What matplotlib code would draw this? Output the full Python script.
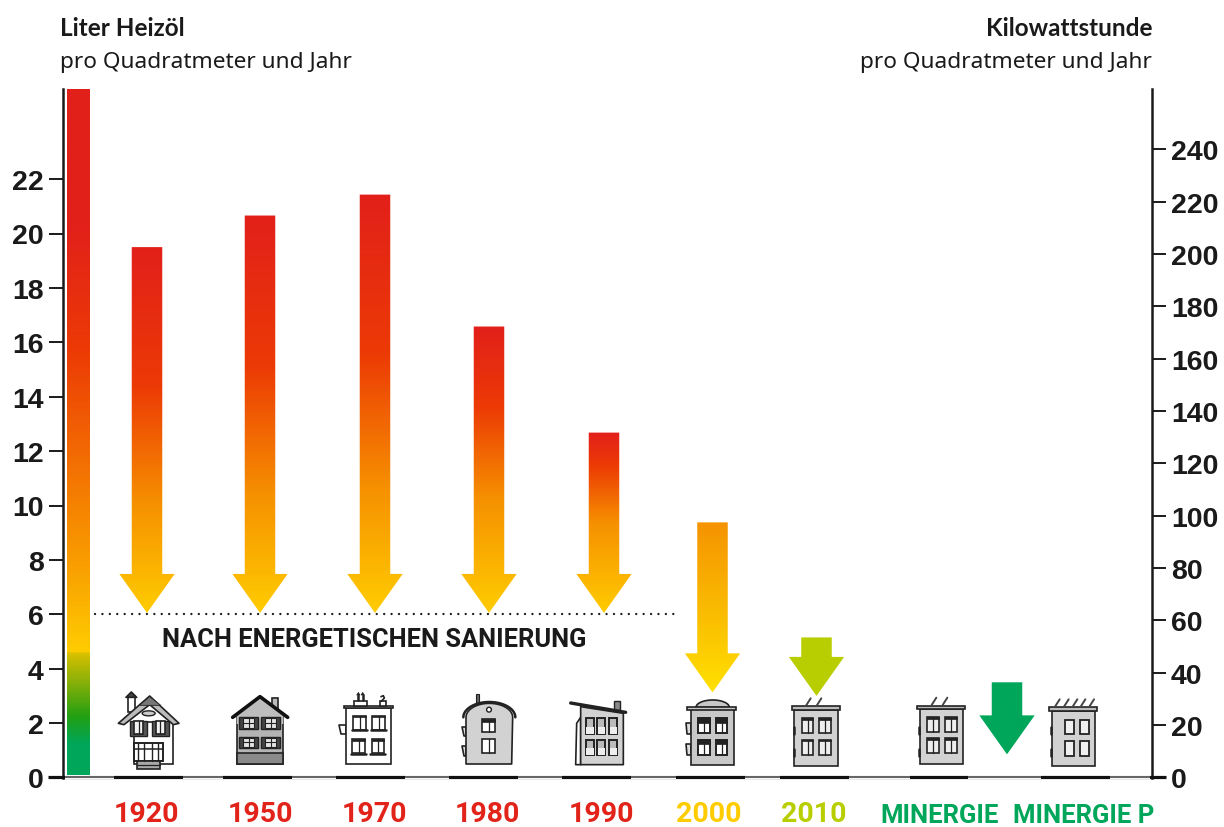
import numpy as np
import matplotlib
matplotlib.use("Agg")
import matplotlib.pyplot as plt
from matplotlib.colors import LinearSegmentedColormap
from matplotlib.patches import Polygon, Rectangle, Ellipse, Circle
from matplotlib.transforms import ScaledTranslation

# ---- data
categories = ["1920", "1950", "1970", "1980", "1990", "2000", "2010", "MINERGIE", "MINERGIE P"]
label_colors = ["#E2231A"] * 5 + ["#FFCC00", "#B9CE00", "#00A65A", "#00A65A"]
arrow_start = [19.5, 20.66, 21.43, 16.58, 12.68, 9.38, 5.15, 3.5]
arrow_end = [6.05, 6.05, 6.05, 6.05, 6.05, 3.13, 3.0, 0.85]
left_ticks = list(range(0, 24, 2))
right_ticks = list(range(0, 260, 20))
threshold = 6
threshold_label = "NACH ENERGETISCHEN SANIERUNG"

# ---- layout (pixels of the 1224x828 picture)
W, H = 1224, 828
AX_L, AX_R, AX_T, AX_B = 62.5, 1152, 89.5, 778.5
PX_PER_L, PX_PER_KWH = 27.2, 2.617
label_x = [146.5, 260, 374, 487, 601, 709, 814, 940, 1084]
arrow_x = [147, 260, 375, 489, 604, 712.5, 816.5, 1007]
SHAFT, HEAD_W, HEAD_H = 30.5, 55.3, 39 / PX_PER_L
INK = "#1A1A1A"


def warm(mid):
    return LinearSegmentedColormap.from_list(
        "warm", [(0, "#E2201A"), (mid, "#EC3A05"), (mid + .32, "#F69000"), (1, "#FFCC00")])


arrow_cmaps = [warm(.38), warm(.38), warm(.38), warm(.28), warm(.18),
               LinearSegmentedColormap.from_list("y", ["#F59300", "#FFE000"]),
               LinearSegmentedColormap.from_list("o", ["#B9CE00", "#B9CE00"]),
               LinearSegmentedColormap.from_list("g", ["#00A65A", "#00A65A"])]
bar_stops = [(0, "#00A65A"), (.045, "#00A65A"), (.085, "#22A012"), (.13, "#7FAE0A"), (.176, "#D6C000"),
             (.18, "#FFCC00"), (.31, "#F99D00"), (.62, "#EC3A05"), (.80, "#E2201A"), (1, "#E2201A")]
bar_cmap = LinearSegmentedColormap.from_list("bar", bar_stops)

plt.rcParams["font.family"] = ["Liberation Sans", "DejaVu Sans"]
fig = plt.figure(figsize=(W / 100, H / 100), dpi=100, facecolor="white")
rect = [AX_L / W, 1 - AX_B / H, (AX_R - AX_L) / W, (AX_B - AX_T) / H]
ax = fig.add_axes(rect)
ax.set_xlim(AX_L, AX_R)
ax.set_ylim(0, (AX_B - AX_T) / PX_PER_L)
ax2 = ax.twinx()
ax2.set_ylim(0, (AX_B - AX_T) / PX_PER_KWH)

for a in (ax, ax2):
    a.spines["top"].set_visible(False)
    for s in ("left", "right"):
        a.spines[s].set_linewidth(1.8)
        a.spines[s].set_color(INK)
    a.spines["bottom"].set_visible(False)
ax.spines["right"].set_visible(False)
ax2.spines["left"].set_visible(False)

ax.set_yticks(left_ticks)
ax2.set_yticks(right_ticks)
for a in (ax, ax2):
    a.tick_params(axis="y", length=10, width=1.4, color=INK, pad=3.5, labelcolor=INK)
    for t in a.get_yticklabels():
        t.set_fontsize(20.5)
        t.set_fontweight("bold")

ax.set_xticks(label_x, categories)
ax.tick_params(axis="x", length=0, pad=16)
for t, c, name in zip(ax.get_xticklabels(), label_colors, categories):
    t.set_color(c)
    t.set_fontweight("bold")
    t.set_family(["Roboto", "Liberation Sans"])
    t.set_fontsize(18.5 if name.startswith("MIN") else 20.5)
    if name.startswith("MIN"):
        t.set_transform(t.get_transform() + ScaledTranslation(0, -3 / 100, fig.dpi_scale_trans))

# colour scale bar
grad = np.linspace(0, 1, 512).reshape(-1, 1)
ymax = ax.get_ylim()[1]
ax.imshow(grad, origin="lower", cmap=bar_cmap, aspect="auto",
          extent=(67.3, 90, 0.07, ymax), interpolation="bilinear", zorder=2)

# arrows
for x, s, e, cm in zip(arrow_x, arrow_start, arrow_end, arrow_cmaps):
    neck = e + HEAD_H
    pts = [(x - SHAFT / 2, s), (x + SHAFT / 2, s), (x + SHAFT / 2, neck), (x + HEAD_W / 2, neck),
           (x, e), (x - HEAD_W / 2, neck), (x - SHAFT / 2, neck)]
    im = ax.imshow(grad[::-1], origin="lower", cmap=cm, aspect="auto", vmin=0, vmax=1,
                   extent=(x - HEAD_W / 2, x + HEAD_W / 2, e, s), interpolation="bilinear", zorder=3)
    p = Polygon(pts, closed=True, transform=ax.transData, fc="none", ec="none")
    ax.add_patch(p)
    im.set_clip_path(p)
ax.set_xlim(AX_L, AX_R)
ax.set_ylim(0, ymax)

# threshold line
ax.plot([94.5, 677], [threshold, threshold], color=INK, lw=1.7,
        linestyle=(0, (0.01, 3.13)), dash_capstyle="round", zorder=2)

# ---- overlay in pixel coordinates: titles, baseline, building pictograms
ov = fig.add_axes([0, 0, 1, 1], facecolor="none")
ov.set_xlim(0, W)
ov.set_ylim(H, 0)
ov.axis("off")

ov.text(162, 640.5, threshold_label, family=["Roboto", "Liberation Sans"], weight="bold",
        fontsize=18.4, color=INK, va="center", ha="left")
ov.text(60, 28.5, "Liter Heizöl", family=["Lato", "Liberation Sans"], weight="bold", fontsize=17.5, color=INK, va="center")
ov.text(60, 62.5, "pro Quadratmeter und Jahr", family="Noto Sans", fontsize=16.3, color=INK, va="center")
ov.text(1152, 28.5, "Kilowattstunde", family=["Lato", "Liberation Sans"], weight="bold", fontsize=17.5, color=INK, va="center", ha="right")
ov.text(1152, 62.5, "pro Quadratmeter und Jahr", family="Noto Sans", fontsize=16.3, color=INK, va="center", ha="right")

# baseline with its thin grey stretches
ov.plot([48, 1166], [778.3, 778.3], color="#111111", lw=2.3, solid_capstyle="butt", zorder=1)
for a, b in [(65, 114), (183, 223), (292, 336), (405, 449), (518, 562), (631, 676),
             (745, 780), (849, 910), (968, 1041), (1110, 1150)]:
    ov.add_patch(Rectangle((a, 776.5), b - a, 4, fc="white", ec="none", zorder=2))
    ov.plot([a, b], [777.6, 777.6], color="#666666", lw=1.5, solid_capstyle="butt", zorder=3)

GREY = "#D2D2D2"
DARK = "#222222"


def Zp(bx, x, y):
    return bx + x / 3, 685 + y / 3


def box(bx, x0, y0, x1, y1, fc="white", lw=1.2, ec=DARK, z=5):
    a, b = Zp(bx, x0, y0)
    c, d = Zp(bx, x1, y1)
    ov.add_patch(Rectangle((a, b), c - a, d - b, fc=fc, ec=ec, lw=lw, zorder=z))


def poly(bx, pts, fc="white", lw=1.2, ec=DARK, z=5):
    ov.add_patch(Polygon([Zp(bx, *p) for p in pts], closed=True, fc=fc, ec=ec, lw=lw, zorder=z, joinstyle="round"))


def line(bx, pts, lw=1.2, c=DARK, z=6):
    q = np.array([Zp(bx, *p) for p in pts])
    ov.plot(q[:, 0], q[:, 1], color=c, lw=lw, zorder=z, solid_capstyle="round")


def win(bx, x0, y0, x1, y1, fc="#F2F2F2", lw=1.2, top=None, mid=True):
    box(bx, x0, y0, x1, y1, fc=fc, lw=lw, z=6)
    if mid:
        m = (x0 + x1) / 2
        line(bx, [(m, y0), (m, y1)], lw=0.9, z=7)
    if top:
        box(bx, x0, y0, x1, y0 + top, fc=DARK, lw=0.5, z=7)


def grid4(bx, xs, ys, **kw):
    for y0, y1 in ys:
        for x0, x1 in xs:
            win(bx, x0, y0, x1, y1, **kw)


# 1920
b = 110
box(b, 55, 35, 75, 85)
poly(b, [(48, 40), (64, 24), (80, 40)], fc="#444444")
box(b, 72, 115, 188, 240)
poly(b, [(25, 118), (119, 36), (207, 118), (190, 122), (119, 62), (42, 122)], fc="#BBBBBB")
poly(b, [(88, 64), (119, 38), (152, 64)], fc="#777777", lw=0.6, z=6)
ov.add_patch(Ellipse(Zp(b, 116, 88), 13, 5, fc="#CCCCCC", ec=DARK, lw=1, zorder=6))
for x0, x1 in [(60, 112), (125, 177)]:
    box(b, x0, 110, x1, 155, fc="#555555", lw=1)
    win(b, x0 + 12, 112, x1 - 12, 150)
box(b, 72, 178, 158, 232, fc="white", lw=1.4)
line(b, [(72, 196), (158, 196)], lw=1.1)
for xx in [85, 103, 125, 145]:
    line(b, [(xx, 178), (xx, 232)], lw=1)
box(b, 82, 232, 150, 255, fc="#AAAAAA")
line(b, [(82, 244), (150, 244)], lw=0.9)

# 1950
b = 110
box(b, 485, 42, 505, 85, fc="#BBBBBB")
poly(b, [(368, 100), (450, 38), (533, 100)], fc="#C8C8C8", ec="none", lw=0)
box(b, 380, 100, 518, 240, fc="#B4B4B4")
poly(b, [(380, 95), (450, 48), (520, 95), (520, 120), (380, 120)], fc="#BDBDBD", ec="none", lw=0)
box(b, 380, 208, 518, 240, fc="#8A8A8A")
line(b, [(368, 100), (450, 38), (533, 100)], lw=2.6, c="#111111")
for y0, y1 in [(100, 135), (158, 192)]:
    for x0, x1 in [(388, 443), (453, 510)]:
        box(b, x0, y0, x1, y1, fc="#444444", lw=1)
        box(b, x0 + 11, y0 + 3, x1 - 11, y1 - 3, fc="#E4E4E4", lw=0.8, z=6)
        line(b, [((x0 + x1) / 2, y0), ((x0 + x1) / 2, y1)], lw=0.8, z=7)
        line(b, [(x0 + 11, (y0 + y1) / 2), (x1 - 11, (y0 + y1) / 2)], lw=0.8, z=7)

# 1970
b = 330
poly(b, [(27, 122), (47, 122), (47, 150), (32, 150)])
box(b, 47, 72, 182, 240)
box(b, 42, 65, 188, 73, fc="#DDDDDD")
box(b, 72, 50, 110, 65, fc="white")
box(b, 150, 52, 168, 65, fc="white")
for xx in [85, 98]:
    line(b, [(xx, 48), (xx, 32)], lw=1.8)
    poly(b, [(xx - 5, 33), (xx, 25), (xx + 5, 33)], fc=DARK, lw=0.4)
line(b, [(153, 38), (160, 35), (163, 42), (154, 52)], lw=1.2)
grid4(b, [(70, 107), (127, 165)], [(95, 138)], fc="white", top=5)
grid4(b, [(67, 105), (125, 163)], [(165, 208)], fc="white", top=5)
for x0, x1, yy in [(66, 110, 139), (123, 168, 139), (62, 108, 210), (120, 166, 210)]:
    line(b, [(x0, yy), (x1, yy)], lw=1.8)

# 1980
b = 330
box(b, 438, 30, 447, 60, fc="#666666", lw=0.8)
poly(b, [(397, 128), (408, 128), (408, 155), (403, 155)], fc="#DDDDDD")
poly(b, [(397, 185), (408, 185), (408, 215), (403, 215)], fc="#DDDDDD")
t = np.linspace(np.pi, 0, 40)
arch = [(478 + 70 * np.cos(a), 100 - 42 * np.sin(a)) for a in t]
poly(b, [(408, 240)] + arch + [(545, 240)], fc=GREY)
arch2 = [(478 + 78 * np.cos(a), 100 - 46 * np.sin(a)) for a in t]
line(b, arch2, lw=1.8)
ov.add_patch(Circle(Zp(b, 477, 77), 2.4, fc="white", ec=DARK, lw=1, zorder=6))
win(b, 457, 105, 495, 145, top=8, fc="white")
win(b, 457, 165, 495, 208, fc="white")

# 1990
b = 560
box(b, 163, 50, 180, 78, fc="#888888", lw=1)
poly(b, [(62, 100), (50, 118), (47, 242), (62, 242)], fc="white")
poly(b, [(62, 68), (190, 88), (190, 242), (62, 242)], fc=GREY)
line(b, [(32, 57), (197, 85)], lw=2.4)
for y0, y1 in [(103, 150), (168, 213)]:
    for x0, x1 in [(78, 102), (112, 136), (148, 172)]:
        box(b, x0, y0, x1, y1, fc="#BBBBBB", lw=1.4, z=6)
        box(b, x0 + 1, (y0 + y1) / 2 + 2, x1 - 1, y1 - 1, fc="#EEEEEE", lw=0, ec="none", z=7)

# 2000
b = 560
poly(b, [(377, 118), (392, 118), (392, 150), (380, 150)], fc="#DDDDDD")
poly(b, [(377, 180), (392, 180), (392, 212), (380, 212)], fc="#DDDDDD")
box(b, 392, 75, 522, 243, fc="#C8C8C8")
t = np.linspace(np.pi, 0, 30)
poly(b, [(458 + 50 * np.cos(a), 70 - 22 * np.sin(a)) for a in t], fc="#C8C8C8")
box(b, 382, 68, 528, 78, fc="#C8C8C8")
grid4(b, [(415, 450), (467, 502)], [(103, 148), (167, 212)], fc="white", lw=1.4, top=14)


# 2010 / MINERGIE / MINERGIE P
def slab(b, x0, x1, y0, y1, rx0, rx1, ry0, ry1, panels, side=(130, 150, 195, 215)):
    for yy0, yy1 in [(side[0], side[1]), (side[2], side[3])]:
        line(b, [(x0 - 2, yy0), (x0 - 2, yy1)], lw=1.8)
    box(b, x0, y0, x1, y1, fc=GREY)
    for px in panels:
        line(b, [(px, ry0 - 2), (px + 14, ry0 - 24)], lw=1.4, c="#444444")
    box(b, rx0, ry0, rx1, ry1, fc="#BBBBBB")


b = 780
slab(b, 43, 173, 78, 245, 35, 180, 67, 78, [78, 110])
grid4(b, [(65, 100), (118, 153)], [(103, 148), (167, 212)], fc="#EEEEEE", top=5)
slab(b, 420, 550, 75, 240, 412, 555, 65, 75, [455, 488])
grid4(b, [(442, 477), (495, 530)], [(100, 145), (163, 208)], fc="#EEEEEE", top=5)
b = 1030
slab(b, 65, 195, 80, 247, 58, 200, 70, 80, [75, 102, 128, 152, 178])
grid4(b, [(104, 132), (150, 178)], [(107, 150), (170, 215)], fc="#F0F0F0", mid=False, lw=1.3)

fig.savefig("out.png", dpi=100, facecolor="white")
